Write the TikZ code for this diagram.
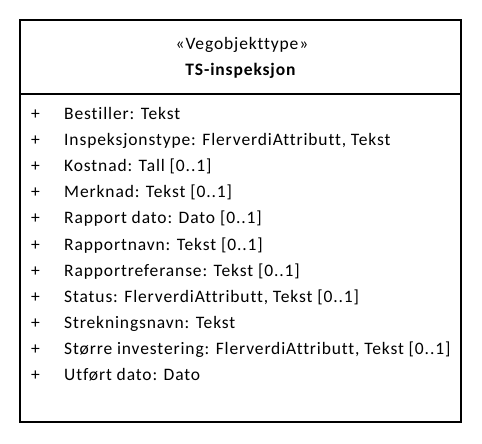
\documentclass[tikz,border=0pt]{standalone}
\usepackage{fontspec}
\setmainfont{Carlito}[LetterSpace=5,Ligatures={NoCommon}]
\begin{document}
\begin{tikzpicture}[x=1bp,y=-1bp,
  frame/.style={draw=black,line width=2.2bp},
  attr/.style={anchor=base west,inner sep=0pt,font=\fontsize{17.5bp}{20bp}\selectfont},
  title/.style={anchor=base,inner sep=0pt,font=\fontsize{17.5bp}{20bp}\selectfont}]
  \useasboundingbox (0,0) rectangle (482,444);
  % class frame and compartment divider
  \node (cls) [frame,minimum width=441bp,minimum height=402bp,inner sep=0pt] at (240.5,221) {};
  \coordinate (divL) at (20,94);
  \coordinate (divR) at (461,94);
  \draw[frame,line cap=rect] (divL) -- (divR);
  % header
  \node (stereo) [title] at (242,50) {«Vegobjekttype»};
  \node (name) [title,font=\fontsize{17.5bp}{20bp}\selectfont\bfseries] at (240.5,76) {TS-inspeksjon};
  % attributes
  \foreach \i/\t in {0/{Bestiller: Tekst},
                     1/{Inspeksjonstype: FlerverdiAttributt, Tekst},
                     2/{Kostnad: Tall [0..1]},
                     3/{Merknad: Tekst [0..1]},
                     4/{Rapport dato: Dato [0..1]},
                     5/{Rapportnavn: Tekst [0..1]},
                     6/{Rapportreferanse: Tekst [0..1]},
                     7/{Status: FlerverdiAttributt, Tekst [0..1]},
                     8/{Strekningsnavn: Tekst},
                     9/{Større investering: FlerverdiAttributt, Tekst [0..1]},
                     10/{Utført dato: Dato}} {
    \node (vis\i) [attr] at (31,120+26*\i) {+};
    \node (att\i) [attr] at (64,120+26*\i) {\t};
  }
\end{tikzpicture}
\end{document}
